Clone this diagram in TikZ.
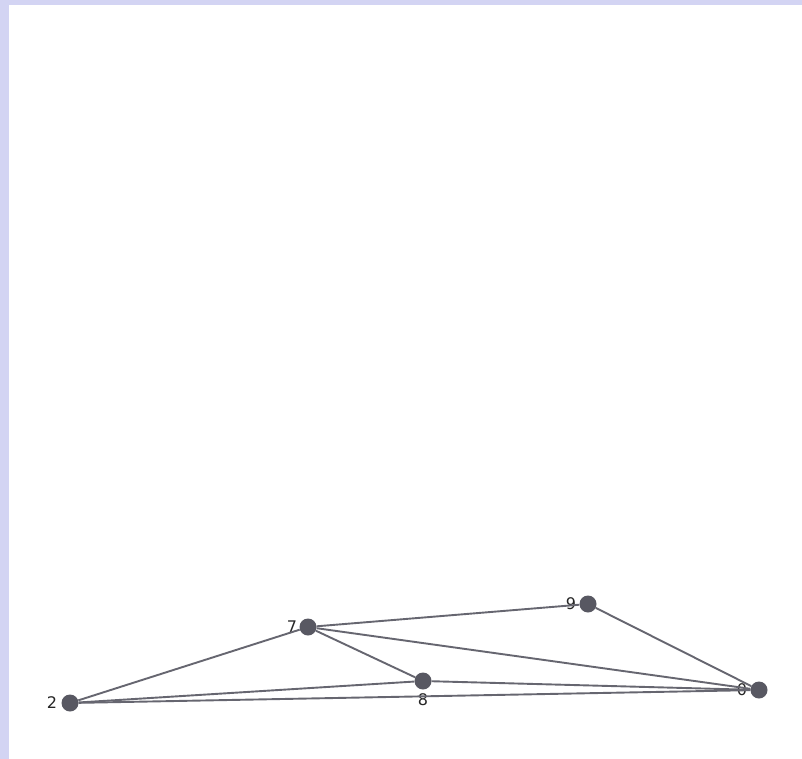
\documentclass[tikz,border=0pt]{standalone}
\usepackage{fontspec}
\setmainfont{DejaVu Sans}
\usetikzlibrary{positioning,calc}
\definecolor{FrameLav}{RGB}{211,212,243}
\definecolor{DotGray}{RGB}{88,88,98}
\definecolor{EdgeGray}{RGB}{102,102,112}
\tikzset{
	v/.style={circle,fill=DotGray,inner sep=0pt,minimum size=17pt},
	edge/.style={draw=EdgeGray,line width=1.9pt},
	lbl/.style={font=\fontsize{16}{19}\selectfont,text=black!85,inner sep=1pt},
}

\begin{document}
\begin{tikzpicture}[x=1pt,y=-1pt]
		\fill[FrameLav] (0,0) rectangle (802,759);
		\fill[white] (9,5) rectangle (802,759);
		\useasboundingbox (0,0) rectangle (802,759);
		\node[v,label={[lbl,label distance=3pt]left:2}] (n2) at (70,703) {};
		\node[v,label={[lbl,label distance=1pt]left:7}] (n7) at (308,627) {};
		\node[v,label={[lbl,label distance=3pt]below:8}] (n8) at (423,681) {};
		\node[v,label={[lbl,label distance=2pt]left:9}] (n9) at (588,604) {};
		\node[v,label={[lbl,label distance=2pt]left:0}] (n0) at (759,690) {};
		\draw[edge] (n2)--(n7);
		\draw[edge] (n2)--(n8);
		\draw[edge] (n2)--(n0);
		\draw[edge] (n7)--(n9);
		\draw[edge] (n7)--(n8);
		\draw[edge] (n7)--(n0);
		\draw[edge] (n8)--(n0);
		\draw[edge] (n9)--(n0);
\end{tikzpicture}
\end{document}
